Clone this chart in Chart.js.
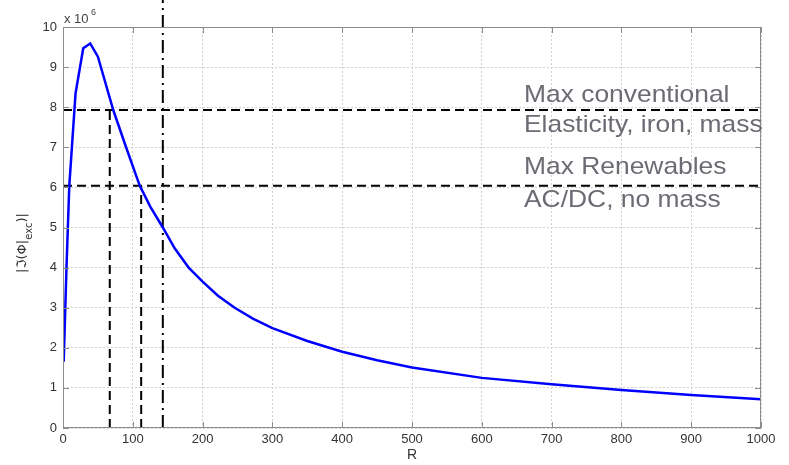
<!DOCTYPE html>
<html>
<head>
<meta charset="utf-8">
<script src="https://cdn.jsdelivr.net/npm/chart.js@4.4.0/dist/chart.umd.min.js"></script>
<style>
  html, body { margin: 0; padding: 0; background: #fff; }
  #wrap { width: 789px; height: 465px; }
</style>
</head>
<body>
<div id="wrap"><canvas id="fluxChart"></canvas></div>
<script>
// curve |Im(phi|exc)| against R (values in units of 1e6)
const rValues = [1, 5, 9, 18, 29, 39, 50, 72, 91, 110, 125, 143, 160, 180, 200, 222, 246, 272, 300, 350, 400, 450, 500, 600, 700, 800, 900, 1000];
const fluxValues = [1.65, 4.0, 6.04, 8.35, 9.47, 9.59, 9.26, 7.93, 6.97, 6.04, 5.52, 5.0, 4.48, 4.0, 3.65, 3.3, 3.0, 2.73, 2.49, 2.17, 1.90, 1.69, 1.51, 1.25, 1.09, 0.95, 0.82, 0.72];

// limit lines
const convLimit = 7.93;
const renewLimit = 6.04;
const convR = 67;
const renewR = 112;
const markR = 143;
const markTop = 10.7; // dash-dot line runs above the axes

const notes = ['Max conventional', 'Elasticity, iron, mass', 'Max Renewables', 'AC/DC, no mass'];

const xTicks = [0, 100, 200, 300, 400, 500, 600, 700, 800, 900, 1000];
const yTicks = [0, 1, 2, 3, 4, 5, 6, 7, 8, 9, 10];

const curve = rValues.map((r, i) => ({ x: r, y: fluxValues[i] }));

function blackLine(points, dash) {
    return {
        data: points,
        showLine: true,
        borderColor: '#000',
        borderWidth: 2,
        borderDash: dash,
        pointRadius: 0,
        tension: 0,
        clip: false
    };
}

// MATLAB style frame, inward ticks and labels
const framePlugin = {
    id: 'frame',
    afterDraw(chart) {
        const ctx = chart.ctx;
        const a = chart.chartArea;
        const xs = chart.scales.x;
        const ys = chart.scales.y;
        ctx.save();
        ctx.strokeStyle = '#8c8c8c';
        ctx.lineWidth = 1;
        ctx.strokeRect(a.left + 0.5, a.top + 0.5, a.right - a.left - 1, a.bottom - a.top - 1);
        ctx.beginPath();
        xTicks.forEach(v => {
            const px = Math.round(xs.getPixelForValue(v)) + 0.5;
            ctx.moveTo(px, a.bottom); ctx.lineTo(px, a.bottom - 6);
            ctx.moveTo(px, a.top); ctx.lineTo(px, a.top + 6);
        });
        yTicks.forEach(v => {
            const py = Math.round(ys.getPixelForValue(v)) + 0.5;
            ctx.moveTo(a.left, py); ctx.lineTo(a.left + 6, py);
            ctx.moveTo(a.right, py); ctx.lineTo(a.right - 6, py);
        });
        ctx.stroke();

        // exponent
        ctx.fillStyle = '#444';
        ctx.font = '13px "Liberation Sans", Arial, sans-serif';
        ctx.textAlign = 'left';
        ctx.textBaseline = 'alphabetic';
        ctx.fillText('x 10', a.left + 1, a.top - 4);
        ctx.font = '9px "Liberation Sans", Arial, sans-serif';
        ctx.fillText('6', a.left + 28, a.top - 12);

        // x title
        ctx.font = '14px "Liberation Sans", Arial, sans-serif';
        ctx.textAlign = 'center';
        ctx.fillStyle = '#333';
        ctx.fillText('R', (a.left + a.right) / 2, 459);

        // y title
        ctx.save();
        ctx.translate(26, 243);
        ctx.rotate(-Math.PI / 2);
        ctx.font = '13px "DejaVu Sans", sans-serif';
        ctx.textAlign = 'left';
        const part1 = '|\u2111(\u03A6|';
        const w1 = ctx.measureText(part1).width;
        ctx.font = '10px "DejaVu Sans", sans-serif';
        const w2 = ctx.measureText('exc').width;
        ctx.font = '13px "DejaVu Sans", sans-serif';
        const w3 = ctx.measureText(')|').width;
        let sx = -(w1 + w2 + w3) / 2;
        ctx.fillText(part1, sx, 0);
        ctx.font = '10px "DejaVu Sans", sans-serif';
        ctx.fillText('exc', sx + w1, 6);
        ctx.font = '13px "DejaVu Sans", sans-serif';
        ctx.fillText(')|', sx + w1 + w2, 0);
        ctx.restore();

        // notes (slightly wide face as in the original)
        ctx.fillStyle = '#6b6b73';
        ctx.font = '24px "Liberation Sans", Arial, sans-serif';
        ctx.textAlign = 'left';
        ctx.translate(524, 0);
        ctx.scale(1.1, 1);
        ctx.fillText(notes[0], 0, 102);
        ctx.fillText(notes[1], 0, 132);
        ctx.fillText(notes[2], 0, 174);
        ctx.fillText(notes[3], 0, 207);
        ctx.restore();
    }
};

new Chart(document.getElementById('fluxChart'), {
    type: 'scatter',
    data: {
        datasets: [
            {
                data: curve,
                showLine: true,
                borderColor: '#0000ff',
                borderWidth: 2.5,
                pointRadius: 0,
                tension: 0
            },
            blackLine([{ x: 0, y: convLimit }, { x: 1000, y: convLimit }], [9, 5]),
            blackLine([{ x: 0, y: renewLimit }, { x: 1000, y: renewLimit }], [9, 5]),
            blackLine([{ x: convR, y: 0 }, { x: convR, y: convLimit }], [9, 5]),
            blackLine([{ x: renewR, y: 0 }, { x: renewR, y: renewLimit }], [9, 5]),
            blackLine([{ x: markR, y: 0 }, { x: markR, y: markTop }], [13, 5, 2, 5])
        ]
    },
    options: {
        responsive: true,
        maintainAspectRatio: false,
        animation: false,
        layout: { padding: { top: 27, right: 28, left: 0, bottom: 0 } },
        plugins: {
            legend: { display: false },
            tooltip: { enabled: false }
        },
        scales: {
            x: {
                type: 'linear',
                min: 0,
                max: 1000,
                afterBuildTicks: s => { s.ticks = xTicks.map(v => ({ value: v })); },
                afterFit: s => { s.height = 37; },
                grid: { color: '#cfcfcf', drawTicks: false, lineWidth: 1 },
                border: { display: false, dash: [2, 2] },
                ticks: {
                    color: '#333', padding: 4, maxRotation: 0,
                    callback: v => String(v),
                    font: { size: 13, family: '"Liberation Sans", Arial, sans-serif' }
                }
            },
            y: {
                type: 'linear',
                min: 0,
                max: 10,
                afterBuildTicks: s => { s.ticks = yTicks.map(v => ({ value: v })); },
                afterFit: s => { s.width = 63; },
                grid: { color: '#cfcfcf', drawTicks: false, lineWidth: 1 },
                border: { display: false, dash: [2, 2] },
                ticks: {
                    color: '#333', padding: 6,
                    callback: v => String(v),
                    font: { size: 13, family: '"Liberation Sans", Arial, sans-serif' }
                }
            }
        }
    },
    plugins: [framePlugin]
});
</script>
</body>
</html>
